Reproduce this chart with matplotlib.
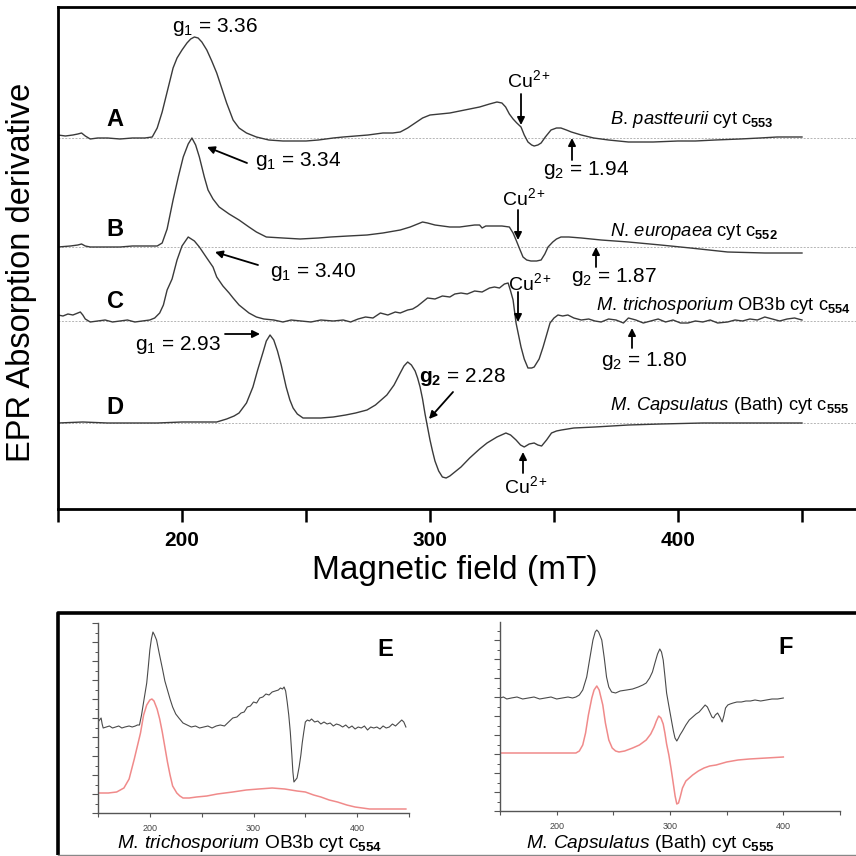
import matplotlib
matplotlib.use("Agg")
import matplotlib.pyplot as plt
from matplotlib.patches import FancyArrowPatch
from matplotlib.ticker import MultipleLocator

plt.rcParams['font.family'] = ['Liberation Sans', 'DejaVu Sans']
plt.rcParams['mathtext.fontset'] = 'custom'
plt.rcParams['mathtext.rm'] = 'Liberation Sans'
plt.rcParams['mathtext.it'] = 'Liberation Sans:italic'
plt.rcParams['mathtext.bf'] = 'Liberation Sans:bold'

# ---------------- data (field in mT, signal in arbitrary units) ----------------
A_points = [(150,3),(153,2),(156,3),(158,4),(159.5,5),(161,2),(163,-1),(166,0),(170,0),(175,-1),(180,0),(185,0),(188,1),(190,10),(192,26),(194,46),(196.4,70),(198,80),(200,88),(202,95),(203.5,99),(205,101),(206.5,100),(208,96),(210,88),(212,77),(214,65),(216,50),(218,35),(220.6,18),(223,10),(226,5),(230,1),(235,-2),(240.7,-3),(245,-3),(250,-3),(255,-2),(261,0),(265,1),(270,2),(275,3),(281,5),(285,5),(288,6),(291,10),(294,15),(297,20),(300,23),(304,24),(308,25),(312,27),(316,29),(320,31),(324,34),(327,36),(329,35),(330.5,31),(332,24),(333.5,19),(335,15),(336.7,11),(338,3),(339.5,-4),(341,-7),(342,-8),(343.5,-7),(344.8,-5),(346.5,1),(348.8,8),(351,10),(352.8,10),(355,8),(357,6),(361,3),(366,0),(372,-2),(380,-4),(390,-4),(400,-3),(407,-3),(415,-2),(425,-1),(433,0),(440,1),(450,1)]

B_points = [(150,0),(155,1),(158,2),(159.5,3),(161,1),(163,0),(170,0),(175,0),(180,1),(185,1),(190,1),(192,4),(194,18),(196.4,47),(198.5,70),(200.5,90),(202.5,103),(204,109),(205.5,102),(207,90),(209,70),(210.5,57),(212.5,48),(215,40),(219,33),(223,27),(227,20),(230,15),(234,10),(240.7,9),(247.6,8),(255,9),(260,10),(267,11),(274.6,12),(281,14),(288,17),(292,20),(295,23),(297,25),(299,24),(302,22),(305,21),(308,20),(312,20),(315,21),(318,22),(320,22),(321,19),(322.5,21),(326,21),(329,21),(332,20),(333.5,14),(334.7,7),(336,-1),(337.5,-10),(339,-13),(340.7,-14),(343,-14),(344.8,-13),(346.3,-7),(347.6,0),(349.5,5),(351,8),(352.8,10),(356,10),(361,9),(365,8),(369,7),(380,5),(393,2),(405,-1),(420,-5),(435,-6),(450,-6)]

C_points = [(150,6),(152,5),(154,7),(156,6),(158,8),(159,9),(160,6),(161,2),(163,-1),(166,0),(169,1),(172,-1),(175,0),(178,1),(181,-1),(184,0),(187,1),(189,3),(191,8),(192.5,16),(194,31),(196,42),(198,61),(200,75),(202.5,84),(205,80),(207,74),(210,63),(212.5,54),(214,44),(216.5,35),(219,28),(220.6,23),(223,16),(227,8),(230,4),(233,2),(237,1),(240.7,-1),(244,1),(248,0),(252,-1),(256,1),(261,0),(265,1),(268,-1),(271,2),(274,4),(277,3),(280,8),(283,6),(286,9),(288,8),(291,11),(293,12),(295,15),(297,19),(299,23),(302,22),(305,25),(308,24),(310,27),(312.5,28),(315,27),(318,30),(321,29),(324,33),(326,34),(328,33),(330,37),(331.5,38),(332.5,30),(333.5,21),(334.7,-2),(335.7,-14),(336.7,-26),(338,-38),(339.5,-47),(341,-47),(342,-46),(344,-38),(345.6,-26),(347,-14),(348.4,-2),(350,3),(351.6,6),(353.5,5),(355.6,6),(358,3),(361,1),(364,2),(366.5,0),(369,-1),(372,2),(375,1),(378,-2),(380,3),(383,1),(386,-2),(389,0),(392,2),(395,-1),(398,1),(401,-2),(404,-2),(407,0),(410,-1),(413,1),(416,-2),(420,-1),(423,1),(426,0),(429,2),(432,1),(435,4),(438,2),(441,0),(444,2),(447,3),(450,1)]

D_points = [(150,0),(160,1),(170,0),(180,0),(190,0),(200,1),(210,1),(214,1),(218,4),(221,7),(223,10),(226,20),(228.6,36),(230.5,53),(232.7,71),(234,82),(235.5,88),(237,83),(238.5,72),(240,58),(242,36),(243.5,23),(244.8,15),(246.5,9),(248.8,5),(252,5),(256,5),(261,6),(266,8),(270,10),(274.6,13),(278,18),(282.6,28),(285.5,38),(288,50),(289.5,57),(291,61),(292.5,58),(294,52),(295,45),(296,36),(297,24),(298,9),(299,-4),(300,-17),(301,-28),(302,-38),(303.5,-48),(305,-54),(306.5,-55),(308,-53),(310,-49),(312.5,-44),(316,-35),(320,-26),(323,-20),(327,-14),(330.6,-10),(332.5,-12),(334.7,-17),(336.5,-22),(338,-24),(340,-21),(342,-20),(343.5,-22),(345,-23),(347,-17),(349,-10),(351,-8),(353,-7),(358,-5),(366.5,-4),(380,-2),(393,-1),(410,0),(430,0),(450,0)]

E_exp_points = [(150,5),(151.5,7),(153,9),(154,3),(155,-1),(158,0),(161,1),(164,-1),(167,0),(170,1),(173,-1),(176,0),(180,1),(183,0),(186,1),(188,2),(190,2),(192,12),(194,25),(197,44),(198.5,60),(200,77),(201.5,88),(203,95),(204.5,92),(206.5,87),(209,74),(212.4,57),(214.5,46),(217,37),(219.5,28),(222,20),(225,13),(228,9),(232,4),(236,2),(240,0),(244,1),(248,-1),(252,0),(256,1),(260,-1),(264,1),(268,2),(272,1),(276,5),(280,9),(284,10),(288,14),(291,15),(294,20),(297,21),(300,25),(303,24),(306,29),(309,30),(312,33),(315,32),(318,35),(321,36),(324,37),(326,39),(328,38),(329.5,40),(331,36),(332.5,25),(334,12),(335.5,-5),(337,-28),(338,-45),(339,-55),(340.5,-53),(342,-51),(344,-40),(345.7,-28),(347,-16),(348.5,-5),(350,5),(352,7),(354,6),(356,8),(359,5),(362,6),(365,3),(368,5),(371,3),(374,4),(377,1),(380,3),(383,2),(386,0),(389,2),(392,-1),(395,1),(398,-2),(401,0),(404,-1),(407,1),(410,-3),(413,0),(416,-1),(419,0),(422,-2),(425,1),(428,-1),(431,0),(434,3),(437,1),(440,4),(443,7),(445,5),(447,0)]

E_sim_points = [(150,1),(160,1),(168,2),(175,6),(180,15),(185,35),(188,48),(191,61),(194,79),(197,89),(200,94),(202,95),(204,93),(207,85),(209.5,75),(212,62),(214.5,47),(217,32),(219.5,19),(222,8),(226,1),(229,-2),(232,-4),(238,-4),(245,-3),(255,-2),(265,0),(280,2),(293,4),(305,5),(318,6),(330,5),(342,3),(350,2),(358,-1),(365,-3),(373,-6),(381,-8),(390,-11),(398,-13),(405,-14),(412,-15),(420,-15),(435,-15),(447,-15)]

F_exp_points = [(150,0),(153,1),(156,-1),(160,0),(165,1),(170,-1),(175,0),(180,1),(185,-1),(190,0),(195,1),(200,-1),(205,0),(210,1),(214,0),(217,1),(220,3),(223,8),(226.5,21),(229,38),(232,58),(234,66),(235.4,68),(237,66),(239.8,58),(242,40),(244,21),(246,11),(248.5,6),(252,5),(256,7),(261.7,8),(267,9),(272,11),(276,13),(279,15),(282,20),(284.5,26),(286.7,35),(289,44),(291,49),(292.5,46),(294,38),(295.5,22),(297,5),(299,-8),(301.7,-25),(303,-33),(304.4,-40),(306,-43),(307.5,-40),(308.8,-37),(311,-33),(314,-27),(317,-22),(320,-19),(323,-16),(325.7,-14),(328,-11),(331,-7),(333,-9),(335,-14),(337,-19),(338.5,-20),(340,-17),(342,-15),(344,-19),(346,-24),(347.5,-18),(349,-10),(351,-7),(353,-6),(355.7,-5),(359,-4),(363,-4),(367,-3),(371,-3),(375,-2),(380,-3),(385,-2),(390,-1),(395,-1),(400,0)]

F_sim_points = [(150,0),(170,0),(200,0),(217,0),(220,2),(223,8),(225.5,20),(228,38),(231,55),(233,63),(235.4,67),(237.5,63),(240.7,48),(243,30),(246,13),(249,5),(252,2),(255,1),(260,2),(267,5),(273,8),(279,13),(283,19),(286,26),(288,32),(290,37),(292,35),(294,29),(295.5,20),(297,9),(299,-2),(301,-16),(302.7,-29),(304.5,-43),(306,-51),(307.5,-50),(309,-44),(311,-35),(314,-28),(317,-25),(320,-22),(325,-18),(330,-15),(335,-13),(340.7,-12),(350,-9),(360,-7),(370,-6),(385,-5),(400,-4)]

main_ticks = [150, 200, 250, 300, 350, 400, 450, 500]
main_ticklabels = ['', '200', '', '300', '', '400', '', '']
sub_ticks = [150, 200, 250, 300, 350, 400, 450]
sub_ticklabels = ['', '200', '', '300', '', '400', '']

# ---------------- layout helpers ----------------
W = 856.0
fig = plt.figure(figsize=(8.56, 8.56), dpi=100)
fig.patch.set_facecolor('white')

def P(x, y):
    return (x / W, 1 - y / W)

def split(points):
    xs = [p[0] for p in points]
    ys = [p[1] for p in points]
    return xs, ys

# ---------------- main panel ----------------
ax = fig.add_axes([58 / W, (W - 509) / W, 868 / W, 502 / W])
ax.set_xlim(150, 500)
ax.set_ylim(0, 502)
offsets = {'A': 371, 'B': 262, 'C': 188, 'D': 86}
for key, pts in (('A', A_points), ('B', B_points), ('C', C_points), ('D', D_points)):
    xs, ys = split(pts)
    off = offsets[key]
    ax.axhline(off, color='#b5b5b5', ls=(0, (2, 1.5)), lw=0.7, zorder=1)
    ax.plot(xs, [v + off for v in ys], color='#3a3a3a', lw=1.0, zorder=2)

for s in ('left', 'top', 'bottom'):
    ax.spines[s].set_linewidth(2.0)
ax.spines['right'].set_visible(False)
ax.set_yticks([])
ax.set_xticks(main_ticks)
ax.set_xticklabels(main_ticklabels)
ax.tick_params(axis='x', direction='out', length=9, width=1.8, labelsize=15, pad=7)
for lab in ax.get_xticklabels():
    lab.set_fontweight('bold')

fig.text(*P(22, 272), 'EPR Absorption derivative', rotation=90, fontsize=23.5,
         ha='center', va='center')
fig.text(*P(455, 571), 'Magnetic field (mT)', fontsize=24, ha='center', va='center')

def label(x, y, s, size=15, ha='center', **kw):
    fig.text(*P(x, y), s, fontsize=size, ha=ha, va='center', **kw)

def arrow(tail, head):
    fig.add_artist(FancyArrowPatch(
        P(*tail), P(*head), transform=fig.transFigure, arrowstyle='-|>',
        mutation_scale=11, color='black', lw=1.3, shrinkA=0, shrinkB=0))

for letter, y in (('A', 119), ('B', 230), ('C', 302), ('D', 408)):
    label(115, y, letter, size=17, fontweight='bold')

label(215, 27, r'g$_1$ = 3.36')
label(298, 161, r'g$_1$ = 3.34'); arrow((247, 163), (207, 147))
label(313, 272, r'g$_1$ = 3.40'); arrow((258, 265), (215, 252))
label(178, 345, r'g$_1$ = 2.93'); arrow((225, 334), (260, 334))
label(463, 377, r'$\mathbf{g_2}$ = 2.28'); arrow((453, 392), (429, 419))

label(529, 80, r'Cu$^{2+}$', size=14); arrow((521, 94), (521, 125))
label(524, 198, r'Cu$^{2+}$', size=14); arrow((518, 210), (518, 240))
label(530, 283, r'Cu$^{2+}$', size=14); arrow((518, 292), (518, 322))
label(526, 486, r'Cu$^{2+}$', size=14); arrow((523, 473), (523, 452))

label(586, 170, r'g$_2$ = 1.94'); arrow((572, 160), (572, 138))
label(614, 277, r'g$_2$ = 1.87'); arrow((596, 267), (596, 247))
label(644, 361, r'g$_2$ = 1.80'); arrow((632, 348), (632, 328))

SP = 13.2
label(610, 120, r'$\mathit{B.\,pastteurii}$ cyt c$_{\mathbf{553}}$', size=SP, ha='left')
label(610, 232, r'$\mathit{N.\,europaea}$ cyt c$_{\mathbf{552}}$', size=SP, ha='left')
label(596, 305, r'$\mathit{M.\,trichosporium}$ OB3b cyt c$_{\mathbf{554}}$', size=SP, ha='left')
label(610, 406, r'$\mathit{M.\,Capsulatus}$ (Bath) cyt c$_{\mathbf{555}}$', size=SP, ha='left')

# ---------------- bottom frame ----------------
frame = fig.add_axes([0, 0, 1, 1], facecolor='none', zorder=-1)
frame.set_xlim(0, W); frame.set_ylim(W, 0); frame.axis('off')
frame.plot([58, 58, 860], [855, 613, 613], color='black', lw=2.6, solid_capstyle='butt')
frame.plot([58, 860], [855, 855], color='#888888', lw=1.0)

def sub_axes(rect, exp_pts, sim_pts, exp_off, sim_off, ymax):
    a = fig.add_axes(rect)
    a.set_xlim(150, 450)
    a.set_ylim(0, ymax)
    xs, ys = split(exp_pts)
    a.plot(xs, [v + exp_off for v in ys], color='#4a4a4a', lw=0.8)
    xs, ys = split(sim_pts)
    a.plot(xs, [v + sim_off for v in ys], color='#f08a8a', lw=1.1)
    a.spines['top'].set_visible(False)
    a.spines['right'].set_visible(False)
    for s in ('left', 'bottom'):
        a.spines[s].set_color('#555555')
        a.spines[s].set_linewidth(1.0)
    a.set_xticks(sub_ticks)
    a.set_xticklabels(sub_ticklabels)
    a.tick_params(axis='x', direction='out', length=3, width=0.8, colors='#555555',
                  labelsize=6.5, labelcolor='#444444', pad=5)
    a.yaxis.set_major_locator(MultipleLocator(19))
    a.yaxis.set_minor_locator(MultipleLocator(9.5))
    a.set_yticklabels([])
    a.tick_params(axis='y', which='major', direction='out', length=4, width=0.8, colors='#555555')
    a.tick_params(axis='y', which='minor', direction='out', length=2.5, width=0.7, colors='#555555')
    a.patch.set_alpha(0)
    return a

sub_axes([98 / W, (W - 813) / W, 311 / W, 190 / W], E_exp_points, E_sim_points, 86, 19, 190)
sub_axes([500 / W, (W - 811) / W, 340 / W, 189 / W], F_exp_points, F_sim_points, 113, 58, 189)

label(385, 650, 'E', size=17, fontweight='bold')
label(786, 648, 'F', size=17, fontweight='bold')
label(117, 843, r'$\mathit{M.\,trichosporium}$ OB3b cyt c$_{\mathbf{554}}$', size=13.8, ha='left')
label(526, 843, r'$\mathit{M.\,Capsulatus}$ (Bath) cyt c$_{\mathbf{555}}$', size=13.8, ha='left')

fig.savefig('out.png', dpi=100, facecolor='white')
